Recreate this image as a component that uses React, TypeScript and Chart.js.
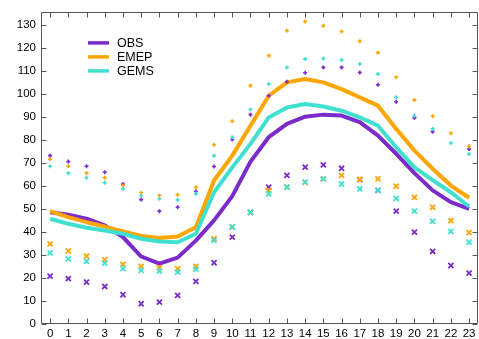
import React, { useEffect, useRef } from 'react';
import { Chart, registerables } from 'chart.js';

Chart.register(...registerables);

const hours = [0, 1, 2, 3, 4, 5, 6, 7, 8, 9, 10, 11, 12, 13, 14, 15, 16, 17, 18, 19, 20, 21, 22, 23];
const yTickValues = [0, 10, 20, 30, 40, 50, 60, 70, 80, 90, 100, 110, 120, 130];
const seriesNames = ['OBS', 'EMEP', 'GEMS'];

const obsLine = [48.5, 47.4, 45.7, 42.8, 37.7, 29.3, 26.2, 28.8, 36.2, 45, 55.5, 70.5, 81.1, 86.9, 90, 90.9, 90.5, 87.6, 81.8, 73.9, 65.5, 58, 52.9, 50];
const emepLine = [49, 46.4, 44.2, 42.3, 40.2, 38.2, 37.3, 38, 42, 62.3, 73.1, 86.1, 99.1, 104.9, 106.4, 104.9, 102, 98.4, 94.8, 84.7, 75.3, 67.4, 60.1, 54.8];
const gemsLine = [45.7, 43.5, 41.8, 40.6, 39.2, 37, 35.8, 35.5, 39.2, 57.2, 68, 78.2, 89.7, 94, 95.5, 94.4, 92.6, 89.7, 86.1, 76.7, 68, 62.5, 57.2, 51];

const obsHigh = [73.1, 70.5, 68.5, 65.9, 60.8, 54, 49, 50.7, 57.5, 68.4, 80.1, 90.9, 99.1, 105.2, 109.1, 111.4, 111.4, 109.2, 103.9, 96.5, 89.5, 83.5, null, 76];
const emepHigh = [71.5, 68.5, 65.5, 63.5, 60.1, 57, 55.8, 56.1, 59.4, 77.8, 88, 103.5, 116.5, 127.3, 131.3, 129.5, 127, 122.8, 117.8, 107.1, 97.3, 90.2, 82.8, 77.2];
const gemsHigh = [68.5, 65.5, 63.5, 61.3, 58.7, 55.8, 54.4, 53.9, 56.5, 73.1, 81.1, 93.1, 104.2, 111.4, 115, 115.3, 114.6, 112.9, 108.5, 98.4, 90.5, 84.7, 78.6, 73.8];

const obsLow = [20.8, 19.7, 18.2, 16.3, 12.7, 8.8, 9.5, 12.4, 18.5, 26.6, 37.7, 48.5, 59.4, 64.5, 68.1, 69.1, 67.6, 62.7, 58, 49, 39.9, 31.5, 25.4, 22.1];
const emepLow = [34.8, 31.7, 29.5, 27.9, 25.9, 25, 24.4, 24, 25, 37, 42, 48.5, 58, 59.4, 61.5, 63, 64.5, 62.8, 63, 59.8, 55, 50.7, 44.9, 39.7];
const gemsLow = [30.9, 28.3, 27.2, 26.4, 24.1, 23.3, 23, 22.5, 23.8, 36.3, 42.2, 48.5, 56.5, 59.4, 61.6, 63, 60.8, 58.7, 58, 54.5, 49, 44.6, 40.2, 35.5];

const COLORS = ['#7A2BC9', '#FFA500', '#40E0D0'];
const FONT = "'Liberation Sans', Arial, Helvetica, sans-serif";
const W = 484;
const H = 339;

export default function App() {
  const ref = useRef<HTMLCanvasElement | null>(null);

  useEffect(() => {
    const canvas = ref.current;
    if (!canvas) return;
    const toPts = (arr: (number | null)[]) => arr.map((v, i) => ({ x: hours[i], y: v }));

    const lines = [obsLine, emepLine, gemsLine];
    const highs = [obsHigh, emepHigh, gemsHigh];
    const lows = [obsLow, emepLow, gemsLow];

    const sequence: any[] = [];
    lines.forEach((d, k) => {
      sequence.push({
        label: seriesNames[k],
        data: toPts(d),
        borderColor: COLORS[k],
        backgroundColor: COLORS[k],
        borderWidth: 4,
        pointRadius: 0,
        tension: 0,
        showLine: true,
        borderJoinStyle: 'round',
      });
    });
    highs.forEach((d, k) => {
      sequence.push({
        label: seriesNames[k] + ' high',
        data: toPts(d),
        borderColor: COLORS[k],
        backgroundColor: COLORS[k],
        showLine: false,
        pointStyle: 'cross',
        pointRadius: 2,
        pointBorderWidth: 1.6,
      });
    });
    lows.forEach((d, k) => {
      sequence.push({
        label: seriesNames[k] + ' low',
        data: toPts(d),
        borderColor: COLORS[k],
        backgroundColor: COLORS[k],
        showLine: false,
        pointStyle: 'crossRot',
        pointRadius: 3.6,
        pointBorderWidth: 1.8,
      });
    });
    const n = sequence.length;
    sequence.forEach((ds, s) => { ds.order = n - s; });

    const framePlugin = {
      id: 'frame',
      afterDatasetsDraw(chart: any) {
        const { ctx, chartArea: a, scales } = chart;
        const L = Math.round(a.left) + 0.5;
        const R = Math.round(a.right) - 0.5;
        const T = Math.round(a.top) + 0.5;
        const B = Math.round(a.bottom) - 0.5;
        ctx.save();
        ctx.strokeStyle = '#555555';
        ctx.lineWidth = 1;
        ctx.beginPath();
        ctx.rect(L, T, R - L, B - T);
        const tl = 5;
        hours.forEach((h) => {
          const x = Math.round(scales.x.getPixelForValue(h)) + 0.5;
          ctx.moveTo(x, B); ctx.lineTo(x, B - tl);
          ctx.moveTo(x, T); ctx.lineTo(x, T + tl);
        });
        yTickValues.forEach((v) => {
          const y = Math.round(scales.y.getPixelForValue(v)) + 0.5;
          ctx.moveTo(L, y); ctx.lineTo(L + tl, y);
          ctx.moveTo(R, y); ctx.lineTo(R - tl, y);
        });
        ctx.stroke();
        ctx.restore();
      },
    };

    const legendPlugin = {
      id: 'insideLegend',
      afterDraw(chart: any) {
        const { ctx, chartArea: a } = chart;
        const x0 = a.left + 47;
        const y0 = a.top + 31;
        const gap = 14;
        ctx.save();
        ctx.font = `12.5px ${FONT}`;
        ctx.textBaseline = 'middle';
        ctx.textAlign = 'left';
        seriesNames.forEach((name, k) => {
          const y = y0 + k * gap;
          ctx.strokeStyle = COLORS[k];
          ctx.lineWidth = 3.5;
          ctx.beginPath();
          ctx.moveTo(x0, y);
          ctx.lineTo(x0 + 21, y);
          ctx.stroke();
          ctx.fillStyle = '#000';
          ctx.fillText(name, x0 + 29, y + 0.5);
        });
        ctx.restore();
      },
    };

    const tickFont = { family: FONT, size: 11.5 };

    const chart = new Chart(canvas, {
      type: 'scatter',
      data: { datasets: sequence },
      options: {
        responsive: false,
        animation: false,
        events: [],
        layout: { padding: { left: 0, top: 11, right: W - 482, bottom: 0 } },
        plugins: { legend: { display: false }, tooltip: { enabled: false } },
        scales: {
          x: {
            type: 'linear',
            min: -0.5,
            max: 23.5,
            grid: { display: false, drawTicks: false },
            border: { display: false },
            ticks: { padding: 3, font: tickFont, color: '#000', autoSkip: false, maxRotation: 0 },
            afterBuildTicks: (s: any) => { s.ticks = hours.map((v) => ({ value: v })); },
            afterFit: (s: any) => { s.height = H - 324; },
          },
          y: {
            type: 'linear',
            min: 0,
            max: 135.5,
            grid: { display: false, drawTicks: false },
            border: { display: false },
            ticks: { padding: 5, font: tickFont, color: '#000', autoSkip: false },
            afterBuildTicks: (s: any) => { s.ticks = yTickValues.map((v) => ({ value: v })); },
            afterFit: (s: any) => { s.width = 41; },
          },
        },
      } as any,
      plugins: [framePlugin, legendPlugin],
    });

    return () => chart.destroy();
  }, []);

  return (
    <div style={{ position: 'fixed', left: 0, top: 0, width: 479, height: 339, overflow: 'hidden', background: '#fff' }}>
      <canvas ref={ref} width={W} height={H} style={{ width: W, height: H, display: 'block' }} />
    </div>
  );
}
